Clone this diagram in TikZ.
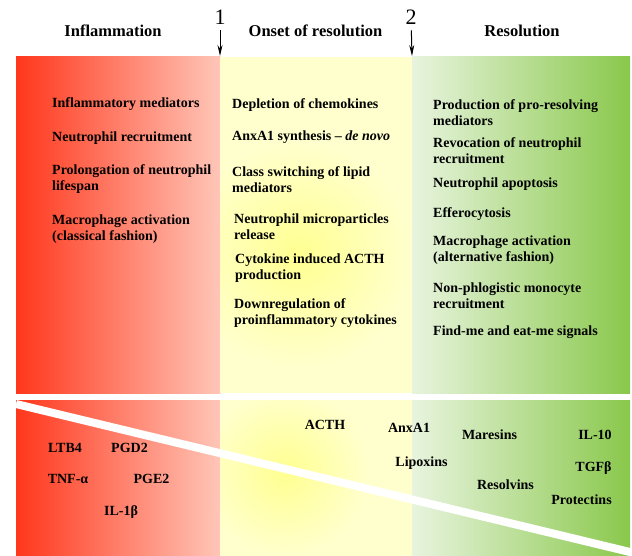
\documentclass[tikz,border=0pt]{standalone}
\usepackage{fontspec}
\setmainfont{Liberation Serif}
\usetikzlibrary{arrows.meta}
\definecolor{redL}{RGB}{255,55,28}
\definecolor{redR}{RGB}{255,198,184}
\definecolor{yelB}{RGB}{255,255,206}
\definecolor{yelC}{RGB}{255,255,145}
\definecolor{grnL}{RGB}{232,244,222}
\definecolor{grnR}{RGB}{138,200,76}
\tikzset{
  lbl/.style={font=\fontsize{14}{16}\selectfont\bfseries, anchor=west, align=left, inner sep=0pt},
  hdr/.style={font=\fontsize{16.5}{19}\selectfont\bfseries, inner sep=0pt},
  num/.style={font=\fontsize{22}{24}\selectfont, inner sep=0pt},
  tag/.style={font=\fontsize{14}{16}\selectfont\bfseries, inner sep=0pt},
  arr/.style={-{Stealth[length=11pt,width=5pt]}, line width=1pt, shorten <=6pt},
}
\begin{document}
\begin{tikzpicture}[x=1pt,y=-1pt]
\useasboundingbox (0,0) rectangle (632,556);
% ---------- top panel ----------
\shade[left color=redL,right color=redR] (16,57) rectangle (220.5,393);
\fill[yelB] (220,57) rectangle (412.5,393);
\begin{scope}
  \clip (220,57) rectangle (412.5,393);
  \shade[inner color=yelC, outer color=yelB] (298,255) circle (115pt);
\end{scope}
\shade[left color=grnL,right color=grnR] (412,57) rectangle (630,393);
% ---------- bottom panel ----------
\shade[left color=redL,right color=redR] (16,400) rectangle (220.5,556);
\fill[yelB] (220,400) rectangle (412.5,556);
\begin{scope}
  \clip (220,400) rectangle (412.5,556);
  \shade[inner color=yelC, outer color=yelB] (285,472) circle (85pt);
\end{scope}
\shade[left color=grnL,right color=grnR] (412,400) rectangle (630,556);
% diagonal white band
\draw[white, line width=8pt] (16,404) -- (632,552.5);

% ---------- headers ----------
\node[hdr] (hInf) at (113,31) {Inflammation};
\node[hdr] (hOns) at (315.5,31) {Onset of resolution};
\node[hdr] (hRes) at (522,31) {Resolution};
\node[num] (n1) at (220,17) {1};
\node[num] (n2) at (411,17) {2};
\coordinate (t1) at (220,56);
\coordinate (t2) at (412,56);
\draw[arr] (n1) -- (t1);
\draw[arr] (n2) -- (t2);

% ---------- left column ----------
\node[lbl] (l1) at (52,104) {Inflammatory mediators};
\node[lbl] (l2) at (52,138) {Neutrophil recruitment};
\node[lbl] (l3) at (52,179) {Prolongation of neutrophil\\lifespan};
\node[lbl] (l4) at (52,229) {Macrophage activation\\(classical fashion)};

% ---------- middle column ----------
\node[lbl] (m1) at (232,105) {Depletion of chemokines};
\node[lbl] (m2) at (232,137) {AnxA1 synthesis -- \textit{de novo}};
\node[lbl] (m3) at (232,179.5) {Class switching of lipid\\mediators};
\node[lbl] (m4) at (234,226.5) {Neutrophil microparticles\\release};
\node[lbl] (m5) at (235,268) {Cytokine induced ACTH\\production};
\node[lbl] (m6) at (234,313) {Downregulation of\\proinflammatory cytokines};

% ---------- right column ----------
\node[lbl] (r1) at (433,113) {Production of pro-resolving\\mediators};
\node[lbl] (r2) at (433,151) {Revocation of neutrophil\\recruitment};
\node[lbl] (r3) at (433,184) {Neutrophil apoptosis};
\node[lbl] (r4) at (433,214) {Efferocytosis};
\node[lbl] (r5) at (433,250.5) {Macrophage activation\\(alternative fashion)};
\node[lbl] (r6) at (433,296) {Non-phlogistic monocyte\\recruitment};
\node[lbl] (r7) at (433,332) {Find-me and eat-me signals};

% ---------- bottom mediators ----------
\node[tag] (b1) at (65,448) {LTB4};
\node[tag] (b2) at (129.5,448) {PGD2};
\node[tag] (b3) at (68,479) {TNF-α};
\node[tag] (b4) at (151.5,479) {PGE2};
\node[tag] (b5) at (121,512) {IL-1β};
\node[tag] (b6) at (325,425) {ACTH};
\node[tag] (b7) at (409,428) {AnxA1};
\node[tag] (b8) at (489.5,435) {Maresins};
\node[tag] (b9) at (595,435) {IL-10};
\node[tag] (b10) at (421.5,463) {Lipoxins};
\node[tag] (b11) at (593.5,468) {TGFβ};
\node[tag] (b12) at (505.5,485) {Resolvins};
\node[tag] (b13) at (581.5,500) {Protectins};
\end{tikzpicture}
\end{document}
